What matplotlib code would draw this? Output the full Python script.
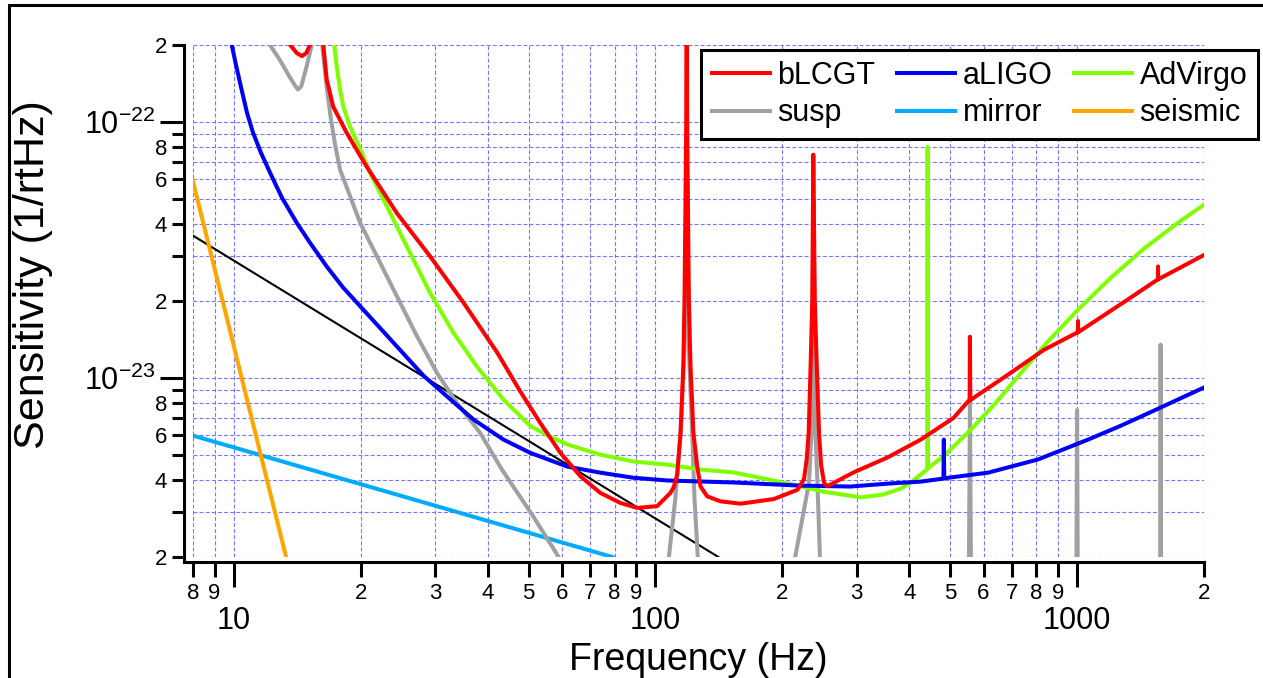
import numpy as np
import matplotlib
matplotlib.use('Agg')
import matplotlib.pyplot as plt
from matplotlib.patches import Rectangle
from matplotlib.ticker import FixedLocator, FixedFormatter

plt.rcParams['font.family'] = ['Liberation Sans', 'DejaVu Sans']
plt.rcParams['mathtext.fontset'] = 'custom'
plt.rcParams['mathtext.rm'] = 'Liberation Sans'
plt.rcParams['mathtext.it'] = 'Liberation Sans:italic'
plt.rcParams['mathtext.bf'] = 'Liberation Sans:bold'

# ---- data (Hz, 1/rtHz) ----
blcgt_f = [13.2, 13.6, 14.1, 14.5, 14.85, 15.15, 15.7, 16.3, 16.6, 17.2, 18.5, 20.65,
           24.35, 29.2, 35.05, 42.1, 47.8, 53.3, 59.4, 66.4, 74, 82.6, 90.5, 100.9,
           108.5, 110.5, 112.6, 114.7, 116.4, 117.2, 118.3, 118.6, 118.9, 120.0, 121.1,
           123.0, 125.6, 127.9, 132.7, 142.6, 159.2, 191, 217.1, 225, 228.4, 230.9,
           233.3, 235.5, 236.8, 238.7, 241.3, 244.3, 247, 251, 255, 260.4, 295, 355.5,
           426, 510, 551, 556, 557, 558, 697, 835, 1004, 1005, 1006, 1321, 1555, 1556,
           1557, 2004]
blcgt_h = [2.4e-22, 2.0e-22, 1.86e-22, 1.81e-22, 1.86e-22, 2.0e-22, 2.6e-22, 2.0e-22,
           1.47e-22, 1.15e-22, 9.1e-23, 6.7e-23, 4.41e-23, 2.99e-23, 1.97e-23, 1.26e-23,
           8.86e-24, 6.68e-24, 5.12e-24, 4.13e-24, 3.56e-24, 3.25e-24, 3.11e-24, 3.16e-24,
           3.56e-24, 3.75e-24, 4.2e-24, 6.12e-24, 1.11e-23, 2.03e-23, 1e-22, 1e-21, 1e-22,
           2.03e-23, 1.11e-23, 6.12e-24, 4.52e-24, 3.77e-24, 3.45e-24, 3.30e-24, 3.23e-24,
           3.37e-24, 3.66e-24, 4.02e-24, 4.81e-24, 6.12e-24, 1.11e-23, 2.03e-23, 7.46e-23,
           2.03e-23, 1.11e-23, 6.12e-24, 4.6e-24, 3.9e-24, 3.78e-24, 3.84e-24, 4.28e-24,
           4.9e-24, 5.75e-24, 7.0e-24, 8.1e-24, 8.15e-24, 1.45e-23, 8.2e-24, 1.05e-23,
           1.29e-23, 1.51e-23, 1.67e-23, 1.51e-23, 2.03e-23, 2.43e-23, 2.73e-23, 2.43e-23,
           3.03e-23]

aligo_f = [9.75, 9.88, 10.11, 10.43, 10.74, 11.1, 11.59, 12.18, 13.0, 14.1, 15.15, 16.6,
           18.15, 20.28, 24.35, 28.2, 32.0, 37.0, 43.6, 50.5, 61.8, 74, 88.6, 106.7, 153,
           221, 290, 356, 426, 482, 483, 484, 615, 808, 1062, 1272, 1540, 2024]
aligo_h = [2.2e-22, 2.01e-22, 1.68e-22, 1.34e-22, 1.09e-22, 9.1e-23, 7.6e-23, 6.35e-23,
           5.07e-23, 4.04e-23, 3.38e-23, 2.73e-23, 2.26e-23, 1.85e-23, 1.33e-23, 1.02e-23,
           8.49e-24, 6.89e-24, 5.75e-24, 5.1e-24, 4.51e-24, 4.27e-24, 4.08e-24, 3.98e-24,
           3.91e-24, 3.80e-24, 3.77e-24, 3.87e-24, 3.94e-24, 4.05e-24, 5.75e-24, 4.06e-24,
           4.27e-24, 4.81e-24, 5.75e-24, 6.52e-24, 7.53e-24, 9.27e-24]

advirgo_f = [17.0, 17.3, 17.54, 17.86, 18.18, 18.86, 20.1, 21.04, 23.47, 26.18, 29.2,
             33.2, 37.7, 43.6, 50.5, 56.3, 61.8, 74, 88.7, 106.7, 128, 153, 184.5, 218,
             250, 306, 345, 382, 403, 441, 442, 443, 483, 560, 642, 737, 853, 1005, 1204,
             1443, 1738, 2004]
advirgo_h = [2.4e-22, 2.0e-22, 1.65e-22, 1.34e-22, 1.15e-22, 9.6e-23, 7.6e-23, 6.34e-23,
             4.42e-23, 3.08e-23, 2.15e-23, 1.50e-23, 1.11e-23, 8.24e-24, 6.49e-24, 5.9e-24,
             5.5e-24, 5.02e-24, 4.72e-24, 4.59e-24, 4.39e-24, 4.28e-24, 4.02e-24, 3.8e-24,
             3.6e-24, 3.42e-24, 3.5e-24, 3.7e-24, 3.91e-24, 4.4e-24, 8.0e-23, 4.45e-24,
             4.96e-24, 6.29e-24, 8.02e-24, 1.05e-23, 1.39e-23, 1.85e-23, 2.47e-23, 3.21e-23,
             4.05e-23, 4.77e-23]

susp_f = [11.8, 12.18, 12.85, 13.6, 14.0, 14.2, 14.45, 14.88, 15.3, 15.7, 16.2, 16.63,
          17.0, 17.38, 17.86, 19.93, 22.23, 24.35, 27.17, 30.3, 33.8, 38.4, 43.2, 51.3,
          58.5, 65, 100, 107.6, 111.4, 114.7, 117.2, 118.6, 120.0, 122.2, 123.8, 126, 140,
          200, 214.5, 231.3, 234.4, 237, 239.6, 242.2, 245.5, 260, 540, 553.5, 557, 560.5,
          700, 996, 1000, 1004, 1200, 1574, 1578, 1582, 1800]
susp_h = [2.4e-22, 2.0e-22, 1.75e-22, 1.49e-22, 1.38e-22, 1.34e-22, 1.38e-22, 1.65e-22,
          2.0e-22, 2.6e-22, 2.0e-22, 1.34e-22, 1.02e-22, 8.17e-23, 6.52e-23, 4.04e-23,
          2.82e-23, 2.09e-23, 1.46e-23, 1.05e-23, 8.0e-24, 6.1e-24, 4.4e-24, 2.88e-24,
          2.04e-24, 1.5e-24, 1.5e-24, 2.0e-24, 3.35e-24, 6.1e-24, 1.3e-23, 8e-23, 1.3e-23,
          6.1e-24, 3.35e-24, 2.0e-24, 1.5e-24, 1.5e-24, 2.0e-24, 3.9e-24, 6.12e-24, 5e-23,
          6.12e-24, 3.9e-24, 2.0e-24, 1.5e-24, 1.5e-24, 1.5e-24, 8.0e-24, 1.5e-24, 1.5e-24,
          1.5e-24, 7.5e-24, 1.5e-24, 1.5e-24, 1.5e-24, 1.35e-23, 1.5e-24, 1.5e-24]

mirror_f = [8, 79]
mirror_h = [5.96e-24, 2.0e-24]

seismic_f = [8, 13.3]
seismic_h = [5.86e-23, 2.0e-24]

ref_f = [8, 141]
ref_h = [3.6e-23, 2.0e-24]

# ticks
xmajor = [10, 100, 1000]
xmajor_labels = ['10', '100', '1000']
xminor = [8, 9, 20, 30, 40, 50, 60, 70, 80, 90,
          200, 300, 400, 500, 600, 700, 800, 900, 2000]
xminor_labels = ['8', '9', '2', '3', '4', '5', '6', '7', '8', '9',
                 '2', '3', '4', '5', '6', '7', '8', '9', '2']
ymajor = [1e-23, 1e-22]
ymajor_labels = [r'$10^{-23}$', r'$10^{-22}$']
yminor = [2e-24, 3e-24, 4e-24, 5e-24, 6e-24, 7e-24, 8e-24, 9e-24,
          2e-23, 3e-23, 4e-23, 5e-23, 6e-23, 7e-23, 8e-23, 9e-23, 2e-22]
yminor_labels = ['2', '', '4', '', '6', '', '8', '',
                 '2', '', '4', '', '6', '', '8', '', '2']

W, H = 1263, 678
fig = plt.figure(figsize=(W/100, H/100), dpi=100)
ax = fig.add_axes([193/W, 121/H, 1011/W, 512/H])
ax.set_xscale('log')
ax.set_yscale('log')

lw = 2.9
ax.plot(ref_f, ref_h, color='black', lw=1.5, zorder=2)
l_mir, = ax.plot(mirror_f, mirror_h, color='#00AAFF', lw=lw, zorder=2)
l_sei, = ax.plot(seismic_f, seismic_h, color='#FFA500', lw=lw, zorder=2)
l_susp, = ax.plot(susp_f, susp_h, color='#A0A0A0', lw=lw, zorder=3)
l_vir, = ax.plot(advirgo_f, advirgo_h, color='#80FF00', lw=lw, zorder=4)
l_ligo, = ax.plot(aligo_f, aligo_h, color='#0000F5', lw=lw, zorder=5)
l_lcgt, = ax.plot(blcgt_f, blcgt_h, color='#FF0000', lw=lw, zorder=6)

ax.set_xlim(8, 2000)
ax.set_ylim(2e-24, 2e-22)

ax.xaxis.set_major_locator(FixedLocator(xmajor))
ax.xaxis.set_major_formatter(FixedFormatter(xmajor_labels))
ax.xaxis.set_minor_locator(FixedLocator(xminor))
ax.xaxis.set_minor_formatter(FixedFormatter(xminor_labels))
ax.yaxis.set_major_locator(FixedLocator(ymajor))
ax.yaxis.set_major_formatter(FixedFormatter(ymajor_labels))
ax.yaxis.set_minor_locator(FixedLocator(yminor))
ax.yaxis.set_minor_formatter(FixedFormatter(yminor_labels))

ax.tick_params(axis='x', which='major', length=18, width=2.2, labelsize=22, pad=14)
ax.tick_params(axis='x', which='minor', length=10.8, width=2.2, labelsize=16, pad=4)
ax.tick_params(axis='y', which='major', length=17, width=2.2, labelsize=22, pad=3.5)
ax.tick_params(axis='y', which='minor', length=8.6, width=2.2, labelsize=16, pad=3.5)

ax.grid(True, which='both', color='#7575FF', lw=0.8, linestyle=(0, (3.5, 2)))
ax.set_axisbelow(True)

for s in ['top', 'right']:
    ax.spines[s].set_visible(False)
ax.spines['left'].set_position(('outward', 6.5))
ax.spines['bottom'].set_position(('outward', 3.6))
ax.spines['left'].set_linewidth(2.2)
ax.spines['bottom'].set_linewidth(2.2)
# make the two offset axis lines meet at the corner
ax.spines['left'].set_bounds(2e-24 * 10 ** (-5 / 256), 2e-22)
ax.spines['bottom'].set_bounds(8 * 10 ** (-9 / 421.6), 2000)

# ncol legends fill column by column, so order handles to read row by row
leg = ax.legend([l_lcgt, l_susp, l_ligo, l_mir, l_vir, l_sei],
                ['bLCGT', 'susp', 'aLIGO', 'mirror', 'AdVirgo', 'seismic'],
                ncol=3, loc='upper right', bbox_to_anchor=(1258/W, 628/H),
                bbox_transform=fig.transFigure, borderaxespad=0, fontsize=22,
                handlelength=1.9, handletextpad=0.25, columnspacing=0.7,
                labelspacing=0.25, borderpad=0.35, fancybox=False, framealpha=1,
                edgecolor='black')
leg.get_frame().set_linewidth(2.2)
leg.set_zorder(10)

fig.text(698/W, 8/H, 'Frequency (Hz)', ha='center', va='baseline', fontsize=27)
fig.text(33/W, 1 - 275/H, 'Sensitivity (1/rtHz)', rotation=90,
         ha='center', va='center', fontsize=31)

fig.add_artist(Rectangle((9/W, -0.1), 1.5, 673/H + 0.1, transform=fig.transFigure,
                         fill=False, lw=2.2, ec='black'))

fig.savefig('out.png', dpi=100)
